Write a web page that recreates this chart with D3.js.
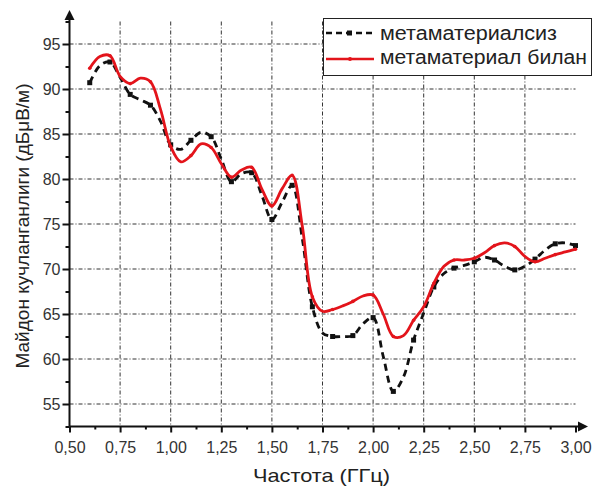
<!DOCTYPE html>
<html><head><meta charset="utf-8">
<script src="https://cdn.jsdelivr.net/npm/d3@7"></script>
<style>body{margin:0;background:#fff}svg{display:block;font-family:"Liberation Sans",Arial,sans-serif}</style>
</head><body><svg id="c" width="594" height="488"></svg>
<script>
const freq = [0.60,0.65,0.70,0.75,0.80,0.85,0.90,0.95,1.00,1.05,1.10,1.15,1.20,1.25,1.30,1.35,1.40,1.45,1.50,1.55,1.60,1.65,1.70,1.75,1.80,1.85,1.90,1.95,2.00,2.05,2.10,2.15,2.20,2.25,2.30,2.35,2.40,2.45,2.50,2.55,2.60,2.65,2.70,2.75,2.80,2.85,2.90,2.95,3.00];
const without = [90.7,92.6,93.0,91.3,89.4,88.8,88.2,86.4,83.8,83.3,84.3,85.2,84.7,82.2,79.7,80.6,80.7,78.2,75.5,77.4,79.3,73.4,65.8,62.9,62.5,62.5,62.6,63.9,64.6,60.3,56.4,58.0,62.1,65.1,68.0,69.5,70.1,70.4,70.8,71.3,71.0,70.3,69.9,70.3,71.1,72.1,72.8,72.9,72.6];
const withMeta = [92.3,93.6,93.7,91.4,90.6,91.2,90.8,87.7,83.6,81.9,82.6,83.9,83.5,81.7,80.2,81.0,81.3,78.9,77.0,78.9,80.4,74.8,66.9,65.3,65.5,65.9,66.4,67.0,67.1,65.0,62.5,62.6,64.3,65.8,68.4,70.3,71.0,71.0,71.2,71.8,72.6,72.9,72.5,71.4,70.8,71.2,71.6,71.9,72.2];
const xTicks = [0.50,0.75,1.00,1.25,1.50,1.75,2.00,2.25,2.50,2.75,3.00];
const yTicks = [55,60,65,70,75,80,85,90,95];
const seriesNames = ["метаматериалсиз","метаматериал билан"];
const xTitle = "Частота (ГГц)";
const yTitle = "Майдон кучланганлиги (дБμВ/м)";

const svg = d3.select("#c");
const x = d3.scaleLinear().domain([0.5,3.0]).range([69.5,575.5]);
const y = d3.scaleLinear().domain([52.5,97.5]).range([426.5,21.5]);
const fmt = d => d.toFixed(2).replace(".", ",");

// grid
const g = svg.append("g");
g.selectAll("line.h").data(yTicks).join("line")
  .attr("x1",x(0.5)).attr("x2",x(3.0)).attr("y1",d=>y(d)).attr("y2",d=>y(d))
  .attr("stroke","#333").attr("stroke-width",1).attr("stroke-dasharray","4,2,1,2");
g.selectAll("line.v").data(xTicks.slice(1,-1)).join("line")
  .attr("x1",d=>x(d)).attr("x2",d=>x(d)).attr("y1",y(97.5)).attr("y2",y(52.5))
  .attr("stroke","#333").attr("stroke-width",1).attr("stroke-dasharray","4,2,1,2");

// axes
const xAxis = svg.append("g").attr("transform",`translate(0,${y(52.5)})`)
  .call(d3.axisBottom(x).tickValues(xTicks).tickFormat(fmt).tickSize(6).tickSizeOuter(0));
const xMinor = svg.append("g").attr("transform",`translate(0,${y(52.5)})`)
  .call(d3.axisBottom(x).tickValues(xTicks.slice(0,-1).map(t=>t+0.125)).tickFormat("").tickSize(3).tickSizeOuter(0));
xMinor.select(".domain").remove();
const yAxis = svg.append("g").attr("transform",`translate(${x(0.5)},0)`)
  .call(d3.axisLeft(y).tickValues(yTicks).tickSize(7).tickSizeOuter(0));
const yMinor = svg.append("g").attr("transform",`translate(${x(0.5)},0)`)
  .call(d3.axisLeft(y).tickValues(yTicks.map(t=>t-2.5).concat([97.5])).tickFormat("").tickSize(4).tickSizeOuter(0));
yMinor.select(".domain").remove();
[xAxis,yAxis,xMinor,yMinor].forEach(a=>{a.selectAll("line").attr("stroke","#111").attr("stroke-width",2);});
xAxis.select(".domain").remove(); yAxis.select(".domain").remove();
xAxis.selectAll("text").attr("font-size",16).attr("fill","#333").attr("y",15).attr("dy","0.71em").style("font-family","Liberation Sans, Arial");
yAxis.selectAll("text").attr("font-size",16).attr("fill","#333").attr("x",-9).style("font-family","Liberation Sans, Arial");
// axis lines with arrows
svg.append("line").attr("x1",x(0.5)).attr("x2",582).attr("y1",y(52.5)).attr("y2",y(52.5)).attr("stroke","#111").attr("stroke-width",2);
svg.append("path").attr("d",`M588,${y(52.5)} L578,${y(52.5)-5} L578,${y(52.5)+5}Z`).attr("fill","#111");
svg.append("line").attr("x1",x(0.5)).attr("x2",x(0.5)).attr("y1",y(52.5)).attr("y2",16).attr("stroke","#111").attr("stroke-width",2);
svg.append("path").attr("d",`M${x(0.5)},10 L${x(0.5)-5},20 L${x(0.5)+5},20Z`).attr("fill","#111");

// series
const dataB = freq.map((f,i)=>({f, v: without[i]}));
const dataR = freq.map((f,i)=>({f, v: withMeta[i]}));
const line = d3.line().x(d=>x(d.f)).y(d=>y(d.v)).curve(d3.curveCatmullRom);
svg.append("path").datum(dataB).attr("d",line).attr("fill","none")
  .attr("stroke","#111").attr("stroke-width",2.8).attr("stroke-dasharray","7,5");
svg.append("g").selectAll("rect").data(dataB.filter((d,i)=>i%2===0)).join("rect")
  .attr("x",d=>x(d.f)-2.5).attr("y",d=>y(d.v)-2.5).attr("width",5).attr("height",5).attr("fill","#111");
svg.append("path").datum(dataR).attr("d",line).attr("fill","none")
  .attr("stroke","#e3141b").attr("stroke-width",2.8);
svg.append("g").selectAll("circle").data(dataR.filter((d,i)=>i%2===0)).join("circle")
  .attr("cx",d=>x(d.f)).attr("cy",d=>y(d.v)).attr("r",1.8).attr("fill","#e3141b");

// legend
const lg = svg.append("g");
lg.append("rect").attr("x",323.5).attr("y",18.5).attr("width",268).attr("height",57)
  .attr("fill","#fff").attr("stroke","#222").attr("stroke-width",1);
lg.append("line").attr("x1",326).attr("x2",374).attr("y1",33).attr("y2",33)
  .attr("stroke","#111").attr("stroke-width",2.6).attr("stroke-dasharray","6,4");
lg.append("rect").attr("x",347).attr("y",30.5).attr("width",5).attr("height",5).attr("fill","#111");
lg.append("line").attr("x1",326).attr("x2",374).attr("y1",59).attr("y2",59)
  .attr("stroke","#e3141b").attr("stroke-width",2.6);
lg.append("circle").attr("cx",350).attr("cy",59).attr("r",2).attr("fill","#e3141b");
const legW = [177, 207];
lg.selectAll("text").data(seriesNames).join("text")
  .attr("x",380).attr("y",(d,i)=>i===0?40:64).attr("font-size",20).attr("fill","#222")
  .attr("textLength",(d,i)=>legW[i]).attr("lengthAdjust","spacingAndGlyphs").text(d=>d);

// titles
svg.append("text").attr("x",253).attr("y",482).attr("font-size",19).attr("fill","#222")
  .attr("textLength",137).attr("lengthAdjust","spacingAndGlyphs").text(xTitle);
svg.append("text").attr("transform","translate(29,226) rotate(-90)").attr("text-anchor","middle").attr("font-size",19).attr("fill","#222").text(yTitle);
</script></body></html>
